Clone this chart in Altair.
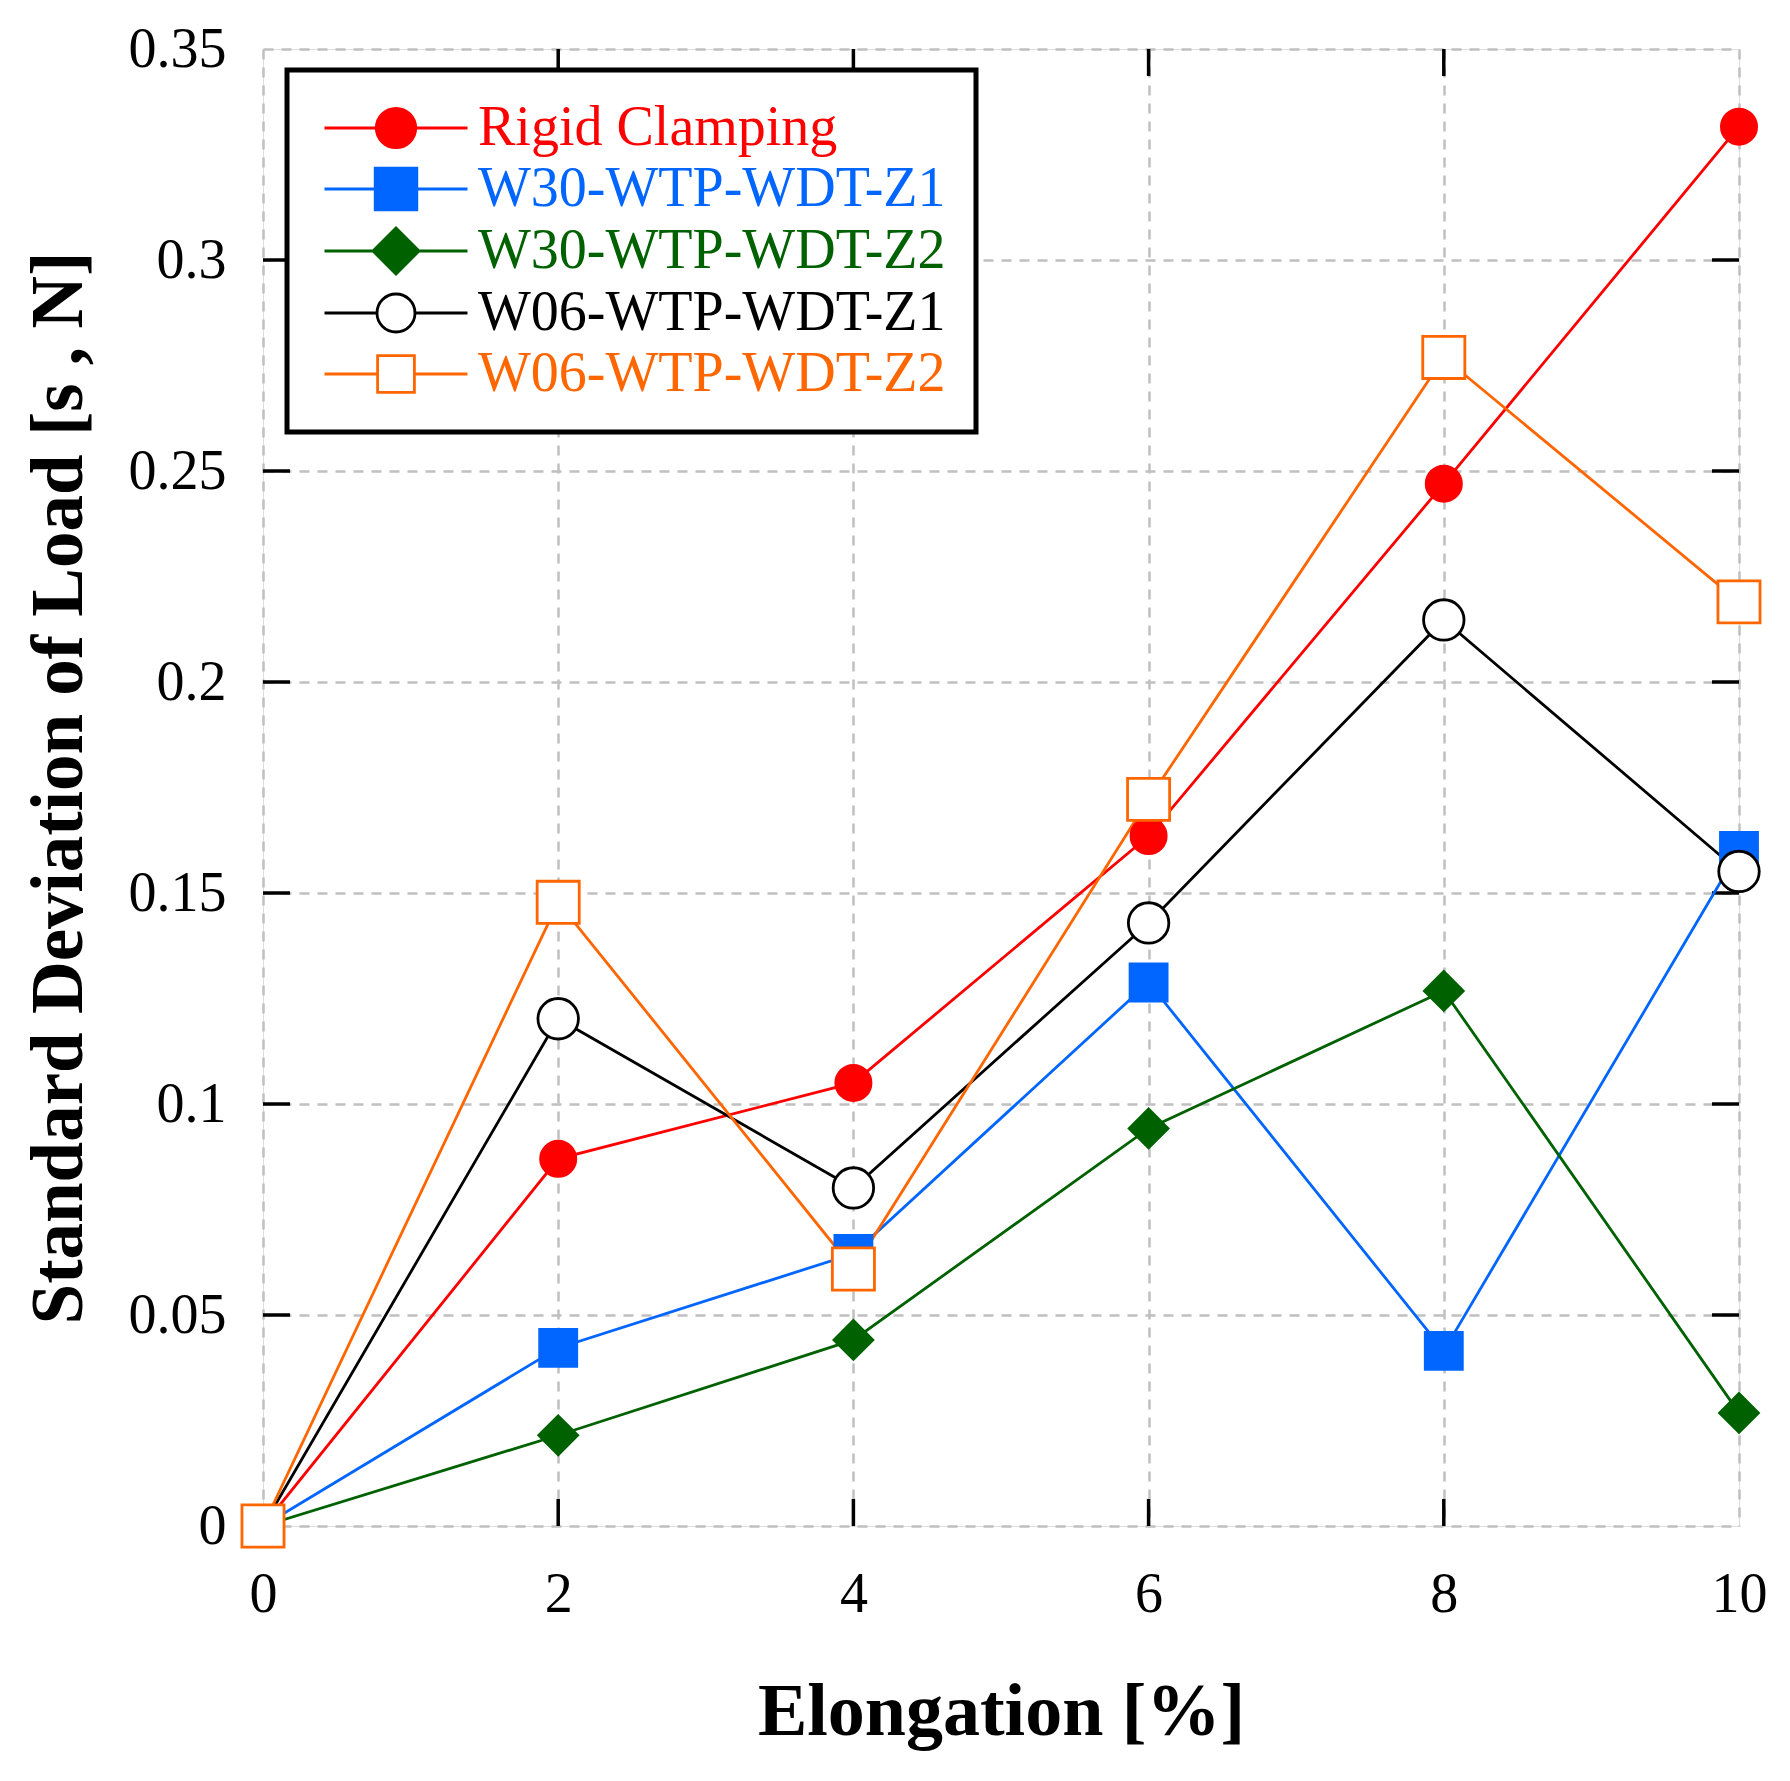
import altair as alt
import pandas as pd

# ---------------- data ----------------
elongation = [0, 2, 4, 6, 8, 10]
series_names = ["Rigid Clamping", "W30-WTP-WDT-Z1", "W30-WTP-WDT-Z2",
                "W06-WTP-WDT-Z1", "W06-WTP-WDT-Z2"]
rigid = [0.0, 0.087, 0.105, 0.1635, 0.247, 0.3316]
w30_z1 = [0.0, 0.0422, 0.0645, 0.1288, 0.0415, 0.160]
w30_z2 = [0.0, 0.0215, 0.0441, 0.0942, 0.1268, 0.0268]
w06_z1 = [0.0, 0.1202, 0.0801, 0.1429, 0.2147, 0.1551]
w06_z2 = [0.0, 0.1478, 0.0609, 0.1722, 0.2769, 0.219]
all_values = [rigid, w30_z1, w30_z2, w06_z1, w06_z2]

stroke_colors = ["#ff0000", "#0066ff", "#006100", "#000000", "#ff6600"]
fill_colors = ["#ff0000", "#0066ff", "#006100", "#ffffff", "#ffffff"]
shapes = ["circle", "square", "diamond", "circle", "square"]
sizes = [1240, 1770, 2160, 1150, 1380]

x_ticks = [0, 2, 4, 6, 8, 10]
y_ticks = [0, 0.05, 0.1, 0.15, 0.2, 0.25, 0.3, 0.35]
x_inner_ticks = [2, 4, 6, 8]
y_inner_ticks = [0.05, 0.1, 0.15, 0.2, 0.25, 0.3]

rows = []
for i, (name, vals) in enumerate(zip(series_names, all_values)):
    for x, v in zip(elongation, vals):
        rows.append({"series": name, "order": i, "x": x, "y": v})
df = pd.DataFrame(rows)

# ---------------- layout ----------------
W, H = 1476, 1477
FONT = "Liberation Serif"
TICK = 27

axis_common = dict(
    grid=True, gridColor="#c0c0c0", gridDash=[10, 8], gridWidth=2.5,
    ticks=False, domain=False, labelFont=FONT, labelFontSize=56,
    labelColor="black", labelOverlap=False, labelFlush=False,
    titleFont=FONT, titleFontWeight="bold", titleColor="black",
)
x_axis = alt.Axis(values=x_ticks, title="Elongation [%]", labelPadding=41,
                  titlePadding=54, titleFontSize=74, **axis_common)
y_axis = alt.Axis(values=y_ticks, format="~g",
                  title="Standard Deviation of Load [s , N]",
                  labelPadding=37, titlePadding=32, titleFontSize=73, **axis_common)
x_scale = alt.Scale(domain=[0, 10], nice=False, zero=False)
y_scale = alt.Scale(domain=[0, 0.35], nice=False, zero=False)

def xenc():
    return alt.X("x:Q", scale=x_scale, axis=x_axis)

def yenc():
    return alt.Y("y:Q", scale=y_scale, axis=y_axis)

# ---------------- legend symbols (line + marker) ----------------
LEG_SIZE = 1444
u = (LEG_SIZE ** 0.5) / 2.0
L = 71.5 / u

def circle_path(r):
    return (f"M{-L:.3f},0H{-r:.3f}M{r:.3f},0H{L:.3f}"
            f"M{r:.3f},0A{r:.3f},{r:.3f} 0 1 1 {-r:.3f},0A{r:.3f},{r:.3f} 0 1 1 {r:.3f},0Z")

def square_path(h):
    return (f"M{-L:.3f},0H{-h:.3f}M{h:.3f},0H{L:.3f}"
            f"M{-h:.3f},{-h:.3f}H{h:.3f}V{h:.3f}H{-h:.3f}Z")

def diamond_path(h):
    return (f"M{-L:.3f},0H{-h:.3f}M{h:.3f},0H{L:.3f}"
            f"M0,{-h:.3f}L{h:.3f},0L0,{h:.3f}L{-h:.3f},0Z")

leg_paths = [circle_path(19.7 / u), square_path(20.8 / u), diamond_path(23.0 / u),
             circle_path(19.0 / u), square_path(18.4 / u)]

names_arr = "[" + ",".join(f"'{n}'" for n in series_names) + "]"
label_color_expr = ("[" + ",".join(f"'{c}'" for c in stroke_colors) +
                    f"][indexof({names_arr}, datum.value)]")

legend_kw = dict(
    title=None, orient="none", legendX=24, legendY=21, padding=30,
    symbolSize=LEG_SIZE, symbolStrokeWidth=2.8, symbolOffset=51, labelOffset=54,
    labelFont=FONT, labelFontSize=56, labelLimit=2000, rowPadding=5,
    strokeColor="black", fillColor="white", symbolOpacity=1,
)
try:
    legend = alt.Legend(labelColor={"expr": label_color_expr}, **legend_kw)
    legend.to_dict()
except Exception:
    legend = alt.Legend(**legend_kw)

# ---------------- inward tick marks ----------------
ydf = pd.DataFrame({"y": y_inner_ticks})
xdf = pd.DataFrame({"x": x_inner_ticks})
tick_style = dict(color="black", strokeWidth=3.5)
left_ticks = alt.Chart(ydf).mark_rule(**tick_style).encode(
    y=yenc(), x=alt.value(0), x2=alt.value(TICK))
right_ticks = alt.Chart(ydf).mark_rule(**tick_style).encode(
    y=yenc(), x=alt.value(W - TICK), x2=alt.value(W))
bottom_ticks = alt.Chart(xdf).mark_rule(**tick_style).encode(
    x=xenc(), y=alt.value(H - TICK), y2=alt.value(H))
top_ticks = alt.Chart(xdf).mark_rule(**tick_style).encode(
    x=xenc(), y=alt.value(0), y2=alt.value(TICK))

# ---------------- series ----------------
def stroke_scale():
    return alt.Scale(domain=series_names, range=stroke_colors)

def fill_scale():
    return alt.Scale(domain=series_names, range=fill_colors)

lines = alt.Chart(df).mark_line(strokeWidth=2.8).encode(
    x=xenc(), y=yenc(),
    stroke=alt.Stroke("series:N", scale=stroke_scale(), legend=None),
    detail="series:N")

points = alt.Chart(df).mark_point(strokeWidth=2.8, opacity=1, fillOpacity=1).encode(
    x=xenc(), y=yenc(),
    stroke=alt.Stroke("series:N", scale=stroke_scale(), legend=None),
    fill=alt.Fill("series:N", scale=fill_scale(), legend=None),
    shape=alt.Shape("series:N", scale=alt.Scale(domain=series_names, range=shapes), legend=None),
    size=alt.Size("series:N", scale=alt.Scale(domain=series_names, range=sizes), legend=None),
    order=alt.Order("order:Q"),
)

# legend-only layer: no rows drawn, carries the legend with line+marker symbols
legend_layer = alt.Chart(df).transform_filter("false").mark_point(
    size=LEG_SIZE, strokeWidth=2.8, opacity=1, fillOpacity=1).encode(
    x=xenc(), y=yenc(),
    stroke=alt.Stroke("series:N", scale=stroke_scale(), legend=legend),
    fill=alt.Fill("series:N", scale=fill_scale(), legend=legend),
    shape=alt.Shape("series:N", scale=alt.Scale(domain=series_names, range=leg_paths),
                    legend=legend),
)

chart = alt.layer(left_ticks, right_ticks, bottom_ticks, top_ticks, lines, points,
                  legend_layer).resolve_scale(
    stroke="independent", fill="independent", shape="independent"
).properties(
    width=W, height=H,
    padding={"left": 255, "top": 41, "right": 43, "bottom": 247},
    autosize=alt.AutoSizeParams(type="none"),
).configure_view(
    stroke="black", strokeWidth=3.5
).configure(
    font=FONT, background="white"
)

try:
    test = chart.configure_legend(strokeWidth=5)
    test.to_dict()
    chart = test
except Exception:
    pass

chart.save("out.html", embed_options={"renderer": "svg", "actions": False})
